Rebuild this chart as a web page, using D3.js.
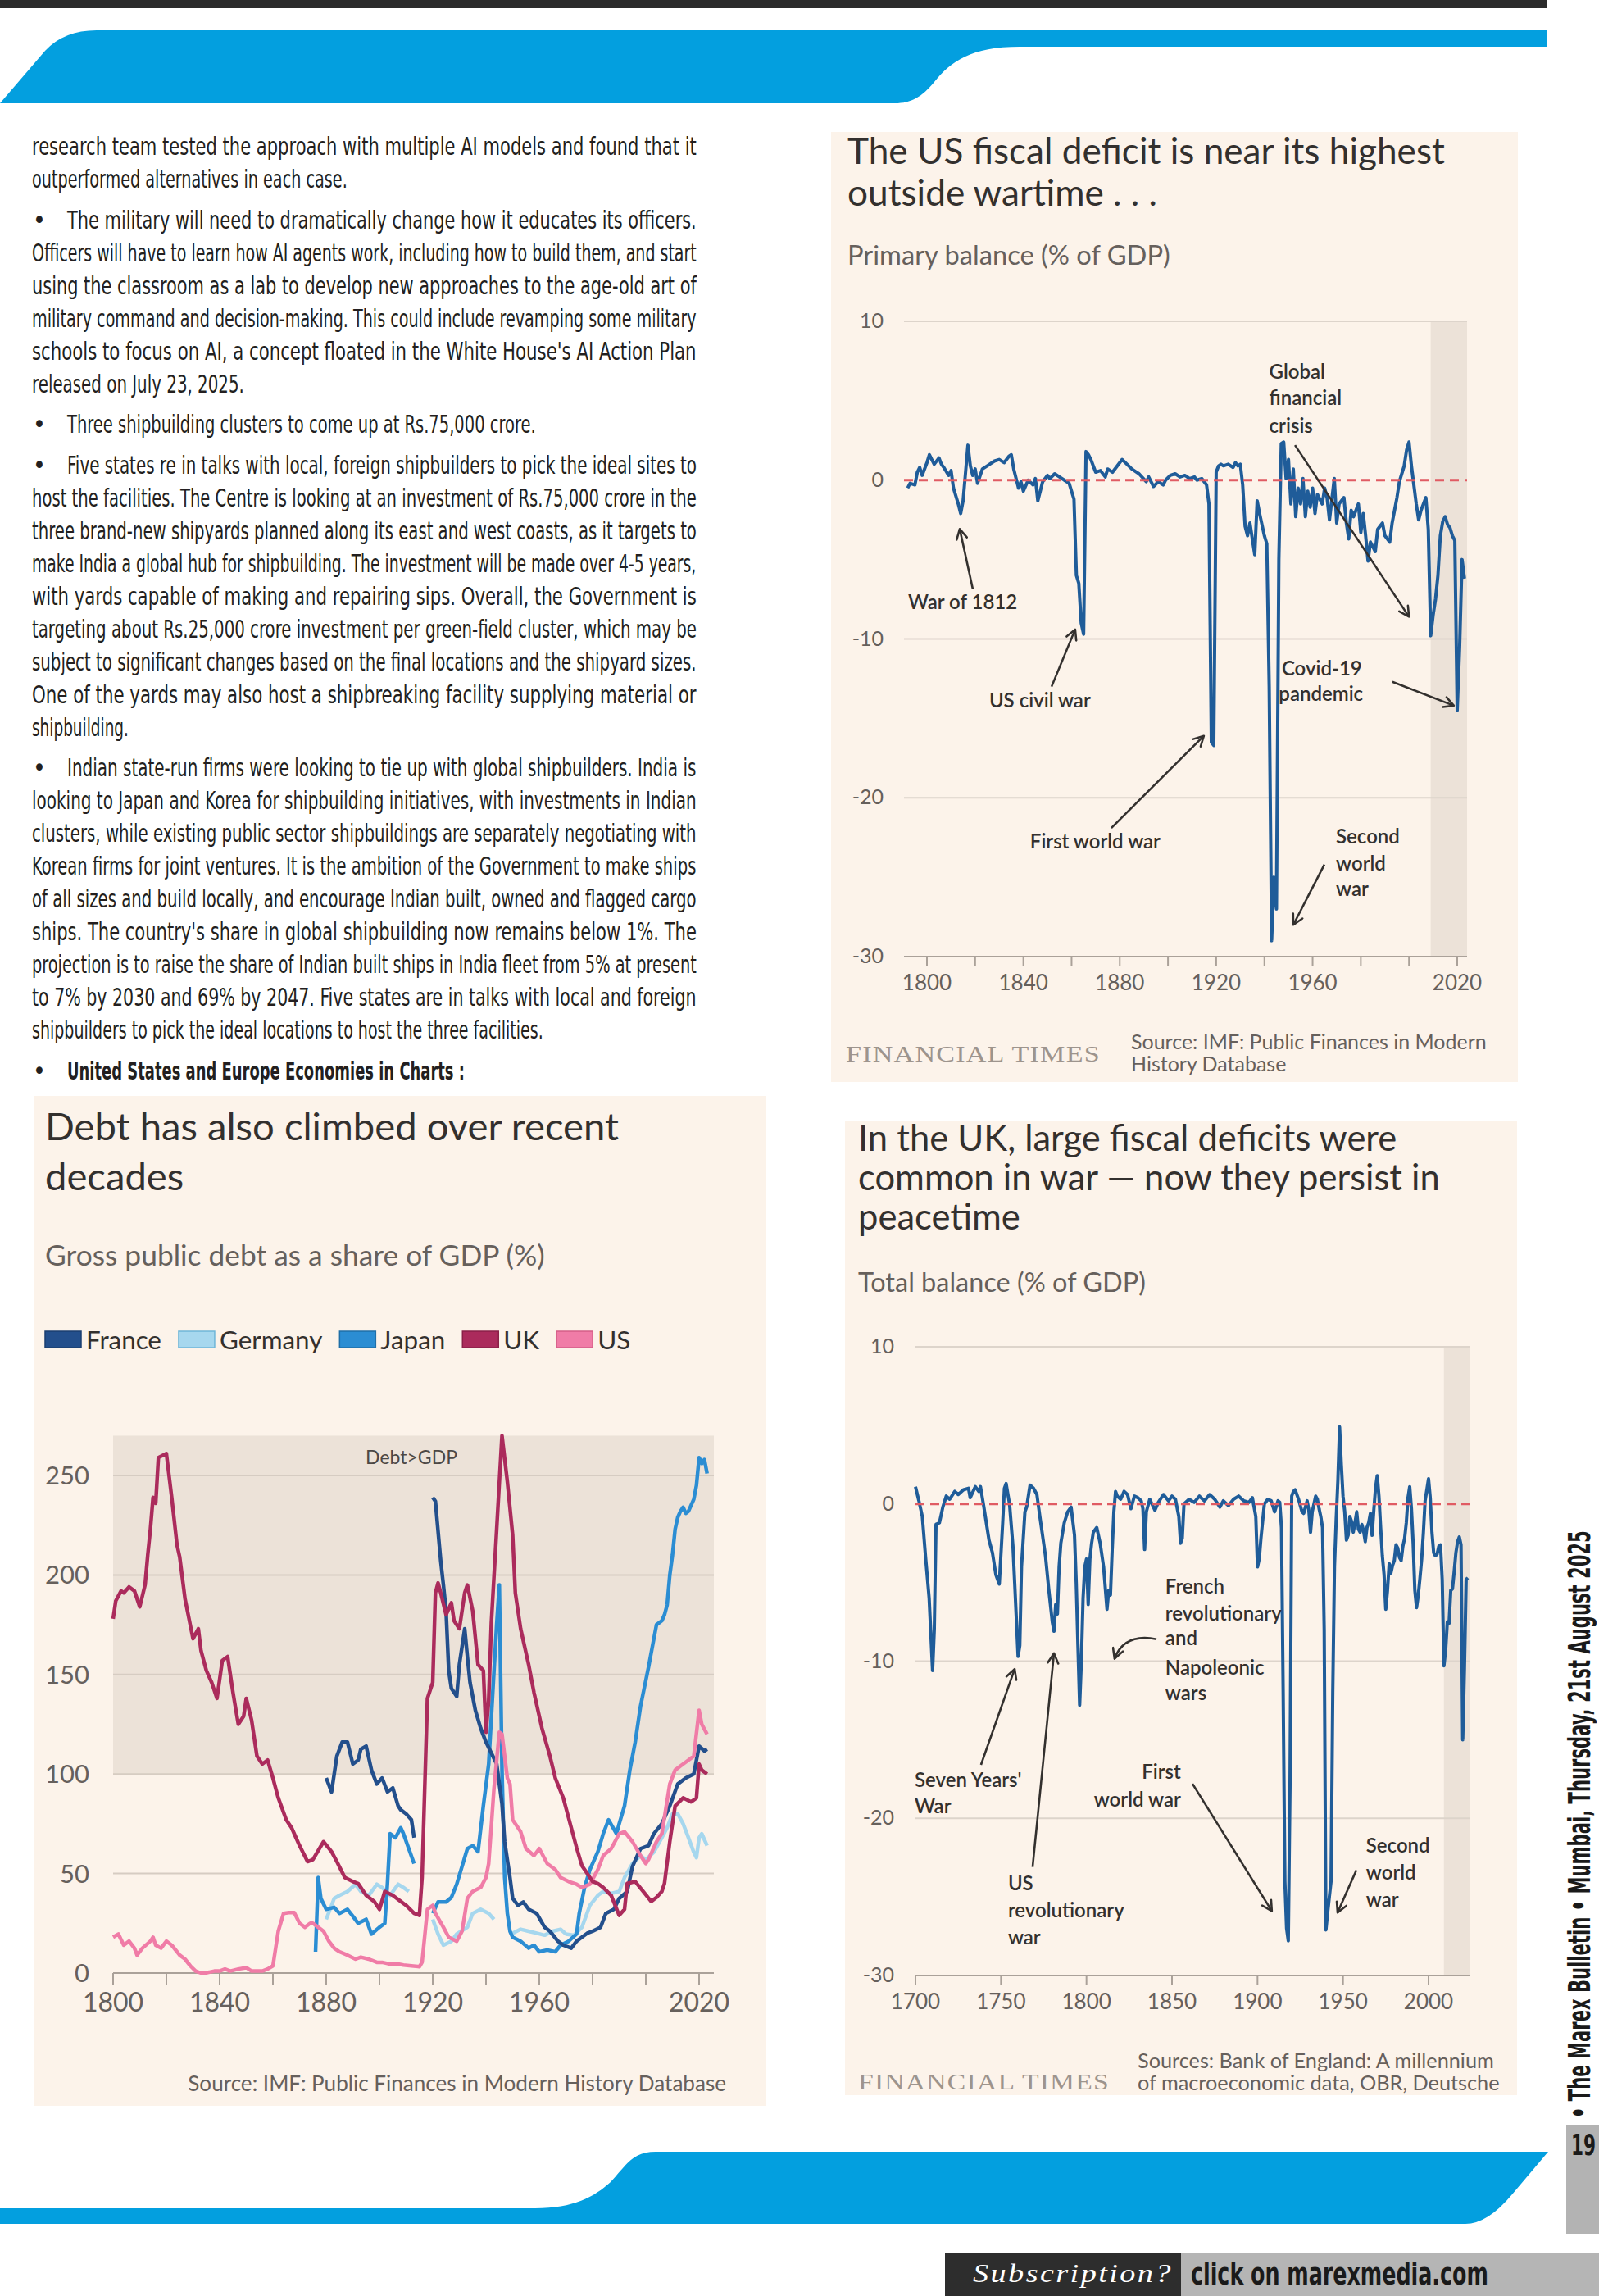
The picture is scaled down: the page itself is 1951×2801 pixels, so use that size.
<!DOCTYPE html>
<html><head><meta charset="utf-8">
<script src="https://cdn.jsdelivr.net/npm/d3@7"></script>
<style>html,body{margin:0;padding:0;background:#fff;}svg{display:block;}</style>
</head><body>
<svg id="page" width="1951" height="2801" xmlns="http://www.w3.org/2000/svg"></svg>
<script>
// ================= DATA =================
// US primary balance (% of GDP): [year, value]
const usBalance = [[1792,-0.5],[1793,-0.2],[1795,-0.3],[1796,0.5],[1797,0.8],[1798,0.3],[1800,1.1],[1801,1.6],[1802,1.3],[1803,1.0],[1805,1.4],[1806,1.0],[1807,0.8],[1809,0.3],[1810,0.6],[1811,-0.5],[1813,-1.5],[1814,-2.1],[1815,-1.3],[1817,2.2],[1818,0.9],[1819,0.3],[1820,0.7],[1821,-0.2],[1823,0.7],[1825,0.9],[1826,1.0],[1828,1.2],[1830,1.3],[1832,1.1],[1834,1.5],[1835,1.6],[1836,0.7],[1838,-0.5],[1839,-0.1],[1840,-0.7],[1842,0],[1844,-0.3],[1845,0.1],[1846,-1.3],[1848,-0.1],[1850,0.3],[1851,0.1],[1853,0.4],[1855,0.2],[1857,0],[1859,-0.2],[1860,-0.7],[1861,-1.2],[1862,-6.0],[1863,-6.5],[1864,-9.0],[1865,-9.7],[1866,1.8],[1867,1.6],[1868,1.3],[1870,0.5],[1872,0.6],[1874,0.2],[1875,0.7],[1877,0.5],[1879,0.9],[1881,1.3],[1883,1.0],[1885,0.7],[1887,0.5],[1888,0.4],[1891,-0.1],[1892,0.2],[1894,-0.4],[1896,-0.1],[1898,-0.3],[1899,0],[1901,0.3],[1903,0.4],[1905,0.2],[1907,0.3],[1909,0.1],[1911,0.2],[1912,0],[1914,0.1],[1916,-0.3],[1917,-1.5],[1918,-16.5],[1919,-16.7],[1920,0.5],[1921,0.9],[1922,1.0],[1923,0.9],[1925,1.0],[1927,0.8],[1928,1.1],[1929,0.9],[1930,1.0],[1931,-0.3],[1932,-2.9],[1933,-3.5],[1934,-2.7],[1935,-3.7],[1936,-4.7],[1937,-1.3],[1938,-2.1],[1940,-3.5],[1941,-4.0],[1942,-13.0],[1943,-29.0],[1944,-25.0],[1945,-27.0],[1946,-5.0],[1947,2.3],[1948,2.4],[1949,0.1],[1950,1.3],[1951,-1.5],[1952,0.7],[1953,-2.3],[1954,-0.5],[1955,-1.5],[1956,0.1],[1957,-2.3],[1958,-0.7],[1959,-1.7],[1960,-0.5],[1961,-2.1],[1962,-0.9],[1964,-1.5],[1965,-0.5],[1966,-1.1],[1967,-2.5],[1969,0.1],[1970,-2.7],[1971,-1.5],[1973,-1.1],[1974,-2.7],[1975,-3.7],[1976,-1.9],[1977,-2.3],[1979,-1.5],[1980,-3.3],[1981,-2.1],[1982,-3.5],[1983,-5.1],[1984,-3.9],[1986,-4.5],[1987,-3.1],[1989,-2.7],[1990,-3.5],[1992,-3.9],[1993,-2.7],[1995,-1.1],[1996,-0.1],[1998,0.9],[1999,1.9],[2000,2.4],[2001,0.9],[2003,-1.5],[2004,-2.5],[2005,-1.9],[2007,-1.1],[2008,-3.1],[2009,-9.8],[2010,-8.5],[2011,-7.5],[2012,-6.0],[2013,-3.5],[2014,-2.6],[2015,-2.3],[2016,-2.8],[2017,-3.0],[2018,-3.5],[2019,-3.8],[2020,-14.5],[2021,-10.5],[2022,-5.0],[2023,-6.2]];

// UK total balance (% of GDP): [year, value]
const ukBalance = [[1700,1.1],[1702,0.2],[1704,-0.8],[1706,-3.5],[1708,-6.0],[1710,-10.6],[1711,-8.0],[1712,-1.3],[1714,-1.2],[1716,-0.2],[1718,0.5],[1720,0.3],[1723,0.8],[1725,0.6],[1728,0.9],[1731,1.0],[1732,0.4],[1735,1.1],[1737,0.8],[1738,1.1],[1740,-0.2],[1743,-2.3],[1745,-3.1],[1747,-4.5],[1749,-5.1],[1751,-1.2],[1752,1.0],[1753,1.3],[1755,0.0],[1757,-2.7],[1758,-5.0],[1760,-9.7],[1761,-9.0],[1762,-4.0],[1764,-0.5],[1765,-0.2],[1767,1.2],[1769,1.0],[1771,0.6],[1773,-1.0],[1776,-3.3],[1778,-5.5],[1780,-7.5],[1781,-8.1],[1782,-6.4],[1783,-7.0],[1784,-4.0],[1785,-2.5],[1787,-1.2],[1789,-0.5],[1791,-0.2],[1793,-2.0],[1794,-5.0],[1795,-9.0],[1796,-12.8],[1797,-10.0],[1798,-6.0],[1799,-4.0],[1800,-3.5],[1801,-6.4],[1802,-3.5],[1803,-2.5],[1804,-1.8],[1806,-1.5],[1808,-2.5],[1810,-4.0],[1812,-6.7],[1813,-5.5],[1814,-5.8],[1815,-3.0],[1816,-0.5],[1817,0.8],[1818,0.5],[1820,0.3],[1822,0.8],[1824,0.6],[1826,-0.3],[1828,0.5],[1830,0.4],[1832,0.2],[1833,-0.3],[1834,-2.9],[1835,-0.5],[1837,0.3],[1840,-0.4],[1842,0.1],[1845,0.6],[1848,0.2],[1850,0.5],[1852,0.3],[1854,-0.8],[1855,-2.5],[1856,-2.2],[1857,0.0],[1860,0.3],[1863,0.1],[1866,0.5],[1869,0.2],[1872,0.6],[1875,0.3],[1878,-0.2],[1880,0.2],[1883,-0.1],[1886,0.3],[1889,0.5],[1892,0.2],[1895,0.1],[1897,0.4],[1899,-0.8],[1900,-4.0],[1901,-3.5],[1902,-2.2],[1904,0.0],[1906,0.3],[1908,0.2],[1910,-0.5],[1912,0.2],[1913,0.1],[1914,-1.5],[1915,-12.0],[1916,-24.0],[1917,-27.0],[1918,-27.8],[1919,-18.0],[1920,0.5],[1921,0.8],[1922,0.9],[1924,0.3],[1926,-0.5],[1927,-0.6],[1929,0.2],[1930,-0.4],[1931,-1.8],[1932,-0.5],[1934,0.5],[1935,0.3],[1936,-0.3],[1937,-0.8],[1938,-1.5],[1939,-8.0],[1940,-27.1],[1941,-26.0],[1942,-25.0],[1943,-24.0],[1944,-12.0],[1945,-4.0],[1946,-1.0],[1947,1.5],[1948,4.9],[1949,2.5],[1950,0.5],[1951,-0.5],[1952,-2.3],[1953,-2.0],[1954,-0.8],[1955,-1.1],[1956,-1.8],[1957,-1.2],[1958,-0.5],[1959,-1.6],[1960,-1.8],[1961,-1.3],[1962,-1.7],[1963,-2.4],[1964,-1.5],[1965,-1.2],[1966,-0.6],[1967,-2.0],[1968,-0.4],[1969,1.0],[1970,1.8],[1971,0.5],[1972,-1.5],[1973,-3.3],[1974,-4.5],[1975,-6.7],[1976,-5.5],[1977,-3.8],[1978,-4.4],[1979,-3.9],[1980,-3.6],[1981,-2.6],[1982,-2.8],[1983,-3.4],[1984,-3.6],[1985,-2.7],[1986,-2.2],[1987,-1.2],[1988,0.4],[1989,1.1],[1990,-0.3],[1991,-2.5],[1992,-5.5],[1993,-6.6],[1994,-5.8],[1995,-4.7],[1996,-3.5],[1997,-1.8],[1998,0.2],[1999,0.9],[2000,1.6],[2001,0.4],[2002,-1.8],[2003,-3.1],[2004,-3.3],[2005,-3.2],[2006,-2.7],[2007,-2.6],[2008,-4.8],[2009,-10.3],[2010,-9.3],[2011,-7.5],[2012,-7.6],[2013,-5.5],[2014,-5.4],[2015,-4.3],[2016,-3.1],[2017,-2.4],[2018,-2.1],[2019,-2.6],[2020,-15.0],[2021,-10.4],[2022,-4.8],[2023,-4.7]];

// Gross public debt (% of GDP): [year, value]; null = gap
const debtFrance = [[1880,98],[1882,91],[1884,109],[1886,116],[1888,116],[1890,105],[1892,107],[1893,112.5],[1895,114],[1897,102],[1899,95],[1901,98],[1903,91],[1905,93],[1907,84],[1908,82],[1910,80],[1912,77],[1913,68],[1914,null],[1920,239],[1921,237],[1923,207],[1924,195],[1925,182],[1926,152],[1927,143],[1929,139],[1930,155],[1932,173],[1933,159],[1934,146],[1936,132],[1938,123],[1940,116],[1944,105],[1946,85],[1947,66],[1949,48],[1950,37.5],[1952,34],[1954,35.7],[1956,32],[1959,30],[1962,23],[1964,21],[1967,16],[1969,14],[1972,12.5],[1974,16],[1976,18],[1978,20],[1980,21],[1983,23],[1985,30],[1988,32],[1990,37.5],[1993,41],[1995,53.6],[1998,62.5],[2001,64],[2003,70],[2006,75],[2009,84],[2012,95],[2015,98],[2018,100],[2020,114],[2022,111.6],[2023,112.5]];
const debtGermany = [[1880,27],[1883,37.5],[1885,39],[1888,41],[1891,44.6],[1893,41],[1896,39],[1899,44.6],[1901,43],[1904,39],[1907,44.6],[1909,43],[1911,41],[1913,null],[1920,27],[1922,19.6],[1924,14],[1927,16],[1929,19.6],[1933,23],[1935,30],[1938,32],[1941,30],[1943,27],[1944,null],[1950,20],[1953,22],[1956,21],[1959,20],[1962,19],[1965,21],[1968,22],[1970,19.6],[1973,19],[1976,23],[1979,34],[1982,39],[1984,41],[1987,40],[1990,41],[1992,48],[1995,55],[1998,59],[2000,57],[2003,60.7],[2006,68],[2008,73],[2010,80],[2012,80],[2014,75],[2016,68],[2018,60.7],[2019,58],[2020,68],[2021,70],[2023,64]];
const debtJapan = [[1876,10.7],[1877,48],[1878,37.5],[1880,32],[1883,33],[1885,30],[1888,32],[1890,28.6],[1892,25],[1895,27],[1897,19.6],[1900,23],[1902,25],[1903,45],[1904,70],[1906,68],[1908,73],[1909,70],[1911,62.5],[1913,55],[1914,null],[1920,30],[1922,35.7],[1925,35.7],[1927,38],[1929,44.6],[1931,53.6],[1933,62.5],[1935,64],[1937,61],[1939,84],[1941,105],[1942,128.6],[1944,175],[1945,195],[1946,102],[1947,48],[1948,30],[1949,21],[1950,18],[1953,16],[1956,12.5],[1958,14],[1960,10.7],[1963,11.6],[1966,10.7],[1968,14],[1971,16],[1974,19.6],[1975,30],[1977,43],[1979,52],[1982,61],[1984,70],[1986,77],[1989,70],[1990,75],[1992,84],[1994,102],[1996,116],[1998,134],[2001,153.6],[2004,175],[2006,177],[2007,180],[2008,185],[2009,200],[2010,210],[2011,223],[2012,229],[2013,232],[2014,234],[2015,231],[2016,232],[2017,235],[2018,238],[2019,245],[2020,259],[2021,256],[2022,258],[2023,251]];
const debtUK = [[1800,178],[1801,187],[1803,192],[1804,191],[1806,194],[1808,192],[1810,184],[1812,195],[1813,210],[1814,223],[1815,239],[1816,236],[1817,259],[1820,261],[1822,239],[1824,215],[1825,209],[1827,188],[1830,168],[1832,173],[1833,162],[1835,152],[1837,146],[1839,138],[1841,157],[1843,159],[1845,141],[1847,125],[1849,129],[1850,138],[1852,127],[1854,109],[1856,105],[1858,107],[1860,98],[1862,88],[1865,77],[1867,73],[1870,64],[1873,56],[1875,57],[1879,66],[1882,61],[1884,56],[1887,48],[1890,46],[1892,45],[1895,39],[1898,36],[1900,32],[1902,41],[1905,39],[1908,36],[1910,34],[1913,30],[1915,29],[1916,48],[1918,138],[1920,146],[1921,191],[1922,196],[1923,191],[1925,180],[1927,186],[1928,177],[1930,173],[1932,191],[1933,195],[1935,182],[1937,155],[1939,152],[1940,121],[1941,137],[1942,176],[1944,223],[1946,270],[1948,247],[1950,220],[1951,191],[1953,173],[1956,155],[1958,141],[1961,123],[1964,109],[1966,98],[1969,88],[1972,73],[1974,63],[1976,54],[1978,50],[1980,46],[1982,45],[1984,43],[1987,39],[1990,29],[1992,32],[1993,45],[1996,46],[1999,41],[2002,36],[2004,38],[2006,41],[2007,45],[2009,66],[2011,84],[2014,88],[2017,86],[2019,88],[2020,105],[2021,102],[2023,100]];
const debtUS = [[1800,18],[1802,19.6],[1804,14],[1806,16],[1808,12.5],[1809,9],[1811,12.5],[1814,16],[1815,18],[1816,14],[1818,12.5],[1820,16],[1822,14],[1824,10.7],[1825,9],[1827,7],[1829,3.6],[1831,1],[1833,0],[1835,0.1],[1838,1],[1840,1],[1842,2],[1844,1],[1847,2],[1850,2.7],[1852,1],[1856,1],[1858,2],[1860,3.6],[1862,21],[1864,30],[1866,30.4],[1868,30.4],[1870,25],[1872,23],[1874,25],[1875,25],[1877,23],[1879,21],[1881,16],[1883,12.5],[1885,10.7],[1888,9],[1891,7],[1893,8],[1896,7],[1899,5.4],[1901,5.4],[1904,4.5],[1907,4.5],[1909,4],[1912,3.6],[1915,3.2],[1916,5.4],[1918,32],[1920,34],[1921,30],[1924,23],[1926,18],[1929,16],[1931,21],[1933,37.5],[1935,41],[1938,43],[1940,48],[1941,55],[1943,93],[1945,121],[1946,120],[1948,98],[1949,95],[1950,77],[1953,71],[1955,62.5],[1958,59],[1960,62.5],[1963,55],[1966,52],[1968,48],[1971,46],[1974,44.6],[1976,43],[1979,44.6],[1982,52],[1984,59],[1987,62.5],[1990,70],[1992,71],[1995,66],[1998,59],[2000,55],[2001,57],[2004,66],[2006,70],[2009,95],[2011,102],[2014,105],[2016,107],[2018,109],[2020,132],[2021,125],[2023,120]];

const debtNames = ["France","Germany","Japan","UK","US"];
const debtValues = [debtFrance, debtGermany, debtJapan, debtUK, debtUS];

// tick values / labels
const balanceYTicks = [10,0,-10,-20,-30];
const usXTickYears = d3.range(1800, 2021, 20);
const usXLabels = [1800,1840,1880,1920,1960,2020];
const ukXTickYears = [1700,1750,1800,1850,1900,1950,2000];
const debtYTicks = [0,50,100,150,200,250];
const debtXTickYears = d3.range(1800, 2021, 20);
const debtXLabels = [1800,1840,1880,1920,1960,2020];

// annotation texts anchored in data space: [text, year, value, anchor]
const usNotes = [["Global",1942,6.4],["financial",1942,4.75],["crisis",1942,3.0],["War of 1812",1792.2,-8.1],["US civil war",1825.8,-14.3],["First world war",1842.8,-23.2],["Covid-19",1947.2,-12.3],["pandemic",1946,-13.9],["Second",1969.7,-22.9],["world",1969.7,-24.6],["war",1969.7,-26.2]];
const usArrows = [[[1952.7,2.2],[2000,-8.6]],[[1819,-6.84],[1813.6,-3.07]],[[1851.7,-13.0],[1861.5,-9.4]],[[1876.5,-21.9],[1914.9,-16.1]],[[1993.1,-12.7],[2018.6,-14.2]],[[1964.9,-24.2],[1952,-28.0]]];
const ukNotes = [["French",1846.1,-5.7],["revolutionary",1846.1,-7.4],["and",1846.1,-9.0],["Napoleonic",1846.1,-10.85],["wars",1846.1,-12.5],["Seven Years'",1699.5,-18.0],["War",1699.5,-19.7],["US",1754.1,-24.6],["revolutionary",1754.1,-26.3],["war",1754.1,-28.0],["First",1855.2,-17.5,"end"],["world war",1855.2,-19.25,"end"],["Second",1963.5,-22.2],["world",1963.5,-23.9],["war",1963.5,-25.6]];
const ukArrows = [[[1840.9,-8.6],[1822,-8.2],[1816.4,-9.85]],[[1738.3,-16.6],[1758,-10.5]],[[1768.5,-23.1],[1781,-9.5]],[[1862,-17.8],[1908.4,-25.9]],[[1957.8,-23.3],[1946.8,-26.0]]];

// article text
const articleParas = [
 {bullet:false, lines:["research team tested the approach with multiple AI models and found that it","outperformed alternatives in each case."], lastEnd:424},
 {bullet:true, lines:["The military will need to dramatically change how it educates its officers.","Officers will have to learn how AI agents work, including how to build them, and start","using the classroom as a lab to develop new approaches to the age-old art of","military command and decision-making. This could include revamping some military","schools to focus on AI, a concept floated in the White House's AI Action Plan","released on July 23, 2025."], lastEnd:298},
 {bullet:true, lines:["Three shipbuilding clusters to come up at Rs.75,000 crore."], lastEnd:654},
 {bullet:true, lines:["Five states re in talks with local, foreign shipbuilders to pick the ideal sites to","host the facilities. The Centre is looking at an investment of Rs.75,000 crore in the","three brand-new shipyards planned along its east and west coasts, as it targets to","make India a global hub for shipbuilding. The investment will be made over 4-5 years,","with yards capable of making and repairing sips. Overall, the Government is","targeting about Rs.25,000 crore investment per green-field cluster, which may be","subject to significant changes based on the final locations and the shipyard sizes.","One of the yards may also host a shipbreaking facility supplying material or","shipbuilding."], lastEnd:157},
 {bullet:true, lines:["Indian state-run firms were looking to tie up with global shipbuilders. India is","looking to Japan and Korea for shipbuilding initiatives, with investments in Indian","clusters, while existing public sector shipbuildings are separately negotiating with","Korean firms for joint ventures. It is the ambition of the Government to make ships","of all sizes and build locally, and encourage Indian built, owned and flagged cargo","ships. The country's share in global shipbuilding now remains below 1%. The","projection is to raise the share of Indian built ships in India fleet from 5% at present","to 7% by 2030 and 69% by 2047. Five states are in talks with local and foreign","shipbuilders to pick the ideal locations to host the three facilities."], lastEnd:663},
 {bullet:true, bold:true, lines:["United States and Europe Economies in Charts :"], lastEnd:567}
];

// ================= DRAWING =================
const svg = d3.select('#page');
const FT = "Lato, 'Open Sans', 'Noto Sans', sans-serif";
const NARROW = "'Liberation Sans Narrow', 'DejaVu Sans Condensed', 'Roboto Condensed', 'Liberation Sans', sans-serif";
const PANEL = "#fcf3ea", SHADE = "#ece2d8", GRID = "#ddd4cb", AXIS = "#aaa199";
const INK = "#33302e", MUTED = "#66605c", LINEBLUE = "#1f5c99", BRAND = "#039fdf";

svg.append('rect').attr('width',1951).attr('height',2801).attr('fill','#fff');

const defs = svg.append('defs');
defs.append('marker').attr('id','arr').attr('viewBox','0 0 10 10').attr('refX',9).attr('refY',5)
  .attr('markerWidth',16).attr('markerHeight',16).attr('markerUnits','userSpaceOnUse').attr('orient','auto')
  .append('path').attr('d','M1.5,1 L9,5 L1.5,9').attr('fill','none').attr('stroke',INK)
  .attr('stroke-width',1.6).attr('stroke-linecap','round').attr('stroke-linejoin','round');

// scale font so the natural width equals w
function fit(sel, w){
  const cw = sel.node().getComputedTextLength();
  const fs = +sel.attr('font-size');
  const nf = fs * w / cw;
  sel.attr('font-size', nf);
  return nf;
}
// compress/stretch a text horizontally to width w, placed at (x,y) (with optional extra transform)
function squeeze(sel, x, y, w, extra){
  sel.attr('x',0).attr('y',0);
  const cw = sel.node().getComputedTextLength();
  sel.attr('transform', `translate(${x},${y})${extra ? ' ' + extra : ''} scale(${(w/cw).toFixed(4)},1)`);
}

// ---- page decorations ----
svg.append('rect').attr('x',0).attr('y',0).attr('width',1888).attr('height',10).attr('fill','#2b2b2b');
svg.append('path').attr('fill',BRAND)
  .attr('d','M0,126 L55,62 Q78,37 118,37 L1888,37 L1888,57 L1244,57 C1185,57 1160,75 1140,100 C1125,118 1112,126 1092,126 L0,126 Z');
svg.append('path').attr('fill',BRAND)
  .attr('d','M0,2694 L653,2694 C700,2694 725,2680 745,2662 C765,2640 772,2625 800,2625 L1889,2625 L1845,2677 Q1815,2713 1788,2713 L0,2713 Z');

// right vertical banner text
squeeze(svg.append('text').attr('font-family',NARROW).attr('font-weight','bold').attr('font-size',38).attr('fill','#1a1a1a')
  .text('\u2022 The Marex Bulletin \u2022 Mumbai, Thursday, 21st August 2025'), 1940, 2584, 717, 'rotate(-90)');
svg.append('rect').attr('x',1911).attr('y',2592).attr('width',40).attr('height',133).attr('fill','#b3b3b3');
squeeze(svg.append('text').attr('font-family',NARROW).attr('font-weight','bold').attr('font-size',36).attr('fill','#1a1a1a').text('19'),
  1917, 2629, 30);

// subscription bar
svg.append('rect').attr('x',1153).attr('y',2748).attr('width',288).attr('height',53).attr('fill','#2d2d2d');
svg.append('rect').attr('x',1441).attr('y',2748).attr('width',510).attr('height',53).attr('fill','#b5b5b5');
squeeze(svg.append('text').attr('font-family',"'Liberation Serif','DejaVu Serif',serif")
  .attr('font-style','italic').attr('font-size',32).attr('fill','#fff').attr('letter-spacing',2).text('Subscription?'), 1187, 2784, 244);
squeeze(svg.append('text').attr('font-family',NARROW).attr('font-weight','bold')
  .attr('font-size',38).attr('fill','#1a1a1a').text('click on marexmedia.com'), 1453, 2787, 363);

// ---- article text ----
(function(){
  const g = svg.append('g').attr('font-family',NARROW).attr('fill','#231f20').attr('font-size',30);
  const left = 39, right = 850, indent = 82, pitch = 40, paraGap = 9.5;
  let y = 189;
  articleParas.forEach((p, pi) => {
    if (pi > 0) y += paraGap;
    p.lines.forEach((t, li) => {
      const x0 = (p.bullet && li === 0) ? indent : left;
      const last = li === p.lines.length - 1;
      const x1 = last ? p.lastEnd : right;
      if (p.bullet && li === 0) g.append('text').attr('x',48).attr('y',y).attr('text-anchor','middle').text('\u2022');
      const tx = g.append('text').attr('font-weight', p.bold ? 'bold' : null).text(t);
      squeeze(tx, x0, y, x1 - x0);
      y += pitch;
    });
  });
})();

// ---- balance charts (US + UK) ----
function balanceChart(o){
  const g = svg.append('g');
  g.append('rect').attr('x',o.panel[0]).attr('y',o.panel[1]).attr('width',o.panel[2]).attr('height',o.panel[3]).attr('fill',PANEL);
  const tl = o.title.map((t,i)=> g.append('text').attr('x',o.tx).attr('y',o.tBase[i])
      .attr('font-family',FT).attr('font-size',34).attr('fill',INK).text(t));
  const fs = fit(tl[o.fitIdx], o.fitW); tl.forEach(t=>t.attr('font-size',fs));
  const st = g.append('text').attr('x',o.tx).attr('y',o.subBase).attr('font-family',FT).attr('font-size',22)
      .attr('fill',MUTED).text(o.subtitle);
  fit(st, o.subW);

  const x = d3.scaleLinear().domain(o.xDom).range(o.xRng);
  const y = d3.scaleLinear().domain([-30,10]).range(o.yRng);
  const [px0, px1] = o.plotX;

  g.append('rect').attr('x',x(o.shadeFrom)).attr('y',y(10)).attr('width',px1 - x(o.shadeFrom))
    .attr('height',y(-30)-y(10)).attr('fill',SHADE);
  g.selectAll('line.grid').data(balanceYTicks.filter(v=>v!==0 && v!==-30)).join('line').attr('class','grid')
    .attr('x1',px0).attr('x2',px1).attr('y1',d=>y(d)).attr('y2',d=>y(d)).attr('stroke',GRID).attr('stroke-width',2);
  g.append('line').attr('x1',px0).attr('x2',px1).attr('y1',y(-30)).attr('y2',y(-30)).attr('stroke',AXIS).attr('stroke-width',2);
  g.selectAll('line.tick').data(o.ticks).join('line').attr('class','tick')
    .attr('x1',d=>x(d)).attr('x2',d=>x(d)).attr('y1',y(-30)).attr('y2',y(-30)+11).attr('stroke',AXIS).attr('stroke-width',2);
  g.selectAll('text.xl').data(o.labels).join('text').attr('class','xl')
    .attr('x',d=>x(d)).attr('y',y(-30)+41).attr('text-anchor','middle')
    .attr('font-family',FT).attr('font-size',26).attr('fill',MUTED).text(d=>d);
  g.selectAll('text.yl').data(balanceYTicks).join('text').attr('class','yl')
    .attr('x',o.yLabelX).attr('y',d=>y(d)+8).attr('text-anchor','end')
    .attr('font-family',FT).attr('font-size',25).attr('fill',MUTED).text(d=>d);

  const line = d3.line().x(d=>x(d[0])).y(d=>y(d[1])).defined(d=>d[1]!=null);
  g.append('path').datum(o.data).attr('d',line).attr('fill','none').attr('stroke',LINEBLUE)
    .attr('stroke-width',4).attr('stroke-linejoin','round');
  g.append('line').attr('x1',px0).attr('x2',px1).attr('y1',y(0)).attr('y2',y(0))
    .attr('stroke','#e05b63').attr('stroke-width',3).attr('stroke-dasharray','11,7');

  g.selectAll('text.note').data(o.notes).join('text').attr('class','note')
    .attr('x',d=>x(d[1])).attr('y',d=>y(d[2])).attr('text-anchor',d=>d[3]||'start')
    .attr('font-family',FT).attr('font-weight',600).attr('font-size',24).attr('fill',INK).text(d=>d[0]);
  o.arrows.forEach(a=>{
    let d;
    if (a.length === 2) d = `M${x(a[0][0])},${y(a[0][1])} L${x(a[1][0])},${y(a[1][1])}`;
    else d = `M${x(a[0][0])},${y(a[0][1])} Q${x(a[1][0])},${y(a[1][1])} ${x(a[2][0])},${y(a[2][1])}`;
    g.append('path').attr('d',d).attr('fill','none').attr('stroke',INK).attr('stroke-width',2.6).attr('marker-end','url(#arr)');
  });

  squeeze(g.append('text').attr('font-family',"'Liberation Serif','DejaVu Serif',serif")
    .attr('font-size',28).attr('fill','#9d948d').attr('letter-spacing',1).text('FINANCIAL TIMES'), o.logo[0], o.logo[1], o.logo[2]);
  const srcs = o.source.map((t,i)=> g.append('text').attr('x',o.srcX).attr('y',o.srcBase[i])
      .attr('font-family',FT).attr('font-size',21).attr('fill',MUTED).text(t));
  const sf = fit(srcs[0], o.srcW); srcs.forEach(s=>s.attr('font-size',sf));
}

balanceChart({
  panel:[1014,161,838,1159],
  title:["The US fiscal deficit is near its highest","outside wartime . . ."], tx:1034, tBase:[200,251], fitIdx:0, fitW:729,
  subtitle:"Primary balance (% of GDP)", subBase:323, subW:394,
  xDom:[1800,2020], xRng:[1131,1778], yRng:[1167,392], plotX:[1103,1790], shadeFrom:2009,
  ticks:usXTickYears, labels:usXLabels, yLabelX:1078, data:usBalance, notes:usNotes, arrows:usArrows,
  logo:[1032,1295,311], source:["Source: IMF: Public Finances in Modern","History Database"], srcX:1380, srcBase:[1280,1307], srcW:434
});

balanceChart({
  panel:[1031,1368,820,1188],
  title:["In the UK, large fiscal deficits were","common in war \u2014 now they persist in","peacetime"], tx:1047, tBase:[1404,1452,1500], fitIdx:1, fitW:710,
  subtitle:"Total balance (% of GDP)", subBase:1576, subW:351,
  xDom:[1700,2000], xRng:[1117,1743], yRng:[2410,1643], plotX:[1117,1793], shadeFrom:2009,
  ticks:ukXTickYears, labels:ukXTickYears, yLabelX:1091, data:ukBalance, notes:ukNotes, arrows:ukArrows,
  logo:[1047,2549,307], source:["Sources: Bank of England: A millennium","of macroeconomic data, OBR, Deutsche"], srcX:1388, srcBase:[2523,2550], srcW:435
});

// ---- debt chart ----
(function(){
  const g = svg.append('g');
  g.append('rect').attr('x',41).attr('y',1337).attr('width',894).attr('height',1232).attr('fill',PANEL);
  const t1 = g.append('text').attr('x',55).attr('y',1391).attr('font-family',FT).attr('font-size',38).attr('fill',INK).text('Debt has also climbed over recent');
  const fs = fit(t1, 700);
  g.append('text').attr('x',55).attr('y',1452).attr('font-family',FT).attr('font-size',fs).attr('fill',INK).text('decades');
  const st = g.append('text').attr('x',55).attr('y',1544).attr('font-family',FT).attr('font-size',27).attr('fill',MUTED).text('Gross public debt as a share of GDP (%)');
  fit(st, 610);

  const colors = d3.scaleOrdinal().domain(debtNames).range(["#234f8c","#a6d7ee","#2b8dd3","#ab2b5c","#f07ca7"]);
  const strokes = d3.scaleOrdinal().domain(debtNames).range(["#1b3f70","#6fb6d8","#1f6fa8","#8a2048","#d45e88"]);
  // legend
  let lx = 55, lfs = null;
  debtNames.forEach((n,i)=>{
    g.append('rect').attr('x',lx).attr('y',1624).attr('width',44).attr('height',20)
      .attr('fill',colors(n)).attr('stroke',strokes(n)).attr('stroke-width',1.5);
    const tt = g.append('text').attr('x',lx+50).attr('y',1646).attr('font-family',FT).attr('font-size',lfs||30).attr('fill',INK).text(n);
    if (i === 0) lfs = fit(tt, 92);
    lx += 50 + tt.node().getComputedTextLength() + 21;
  });

  const x = d3.scaleLinear().domain([1800,2020]).range([138,853]);
  const y = d3.scaleLinear().domain([0,250]).range([2407,1800]);
  const px0 = 138, px1 = 871;
  g.append('rect').attr('x',px0).attr('y',y(270)).attr('width',px1-px0).attr('height',y(100)-y(270)).attr('fill',SHADE);
  g.append('text').attr('x',x(1912)).attr('y',y(255.8)).attr('text-anchor','middle').attr('font-family',FT)
    .attr('font-size',23).attr('fill','#4d4845').text('Debt>GDP');
  g.selectAll('line.grid').data(debtYTicks.filter(v=>v>0)).join('line').attr('class','grid')
    .attr('x1',px0).attr('x2',px1).attr('y1',d=>y(d)).attr('y2',d=>y(d)).attr('stroke',"#d6ccc2").attr('stroke-width',2);
  g.append('line').attr('x1',px0).attr('x2',px1).attr('y1',y(0)).attr('y2',y(0)).attr('stroke',AXIS).attr('stroke-width',2);
  g.selectAll('line.tick').data(debtXTickYears).join('line').attr('class','tick')
    .attr('x1',d=>x(d)).attr('x2',d=>x(d)).attr('y1',y(0)).attr('y2',y(0)+14).attr('stroke',AXIS).attr('stroke-width',2);
  g.selectAll('text.xl').data(debtXLabels).join('text').attr('class','xl')
    .attr('x',d=>x(d)).attr('y',y(0)+47).attr('text-anchor','middle').attr('font-family',FT)
    .attr('font-size',32).attr('fill',MUTED).text(d=>d);
  g.selectAll('text.yl').data(debtYTicks).join('text').attr('class','yl')
    .attr('x',109).attr('y',d=>y(d)+11).attr('text-anchor','end').attr('font-family',FT)
    .attr('font-size',31).attr('fill',MUTED).text(d=>d);

  const line = d3.line().x(d=>x(d[0])).y(d=>y(d[1])).defined(d=>d[1]!=null);
  const order = ["Germany","Japan","France","US","UK"];
  order.forEach(n=>{
    g.append('path').datum(debtValues[debtNames.indexOf(n)]).attr('d',line).attr('fill','none')
      .attr('stroke',colors(n)).attr('stroke-width',4.5).attr('stroke-linejoin','round');
  });
  const src = g.append('text').attr('x',886).attr('y',2551).attr('text-anchor','end').attr('font-family',FT)
    .attr('font-size',24).attr('fill',MUTED).text('Source: IMF: Public Finances in Modern History Database');
  fit(src, 657);
})();
</script>
</body></html>
